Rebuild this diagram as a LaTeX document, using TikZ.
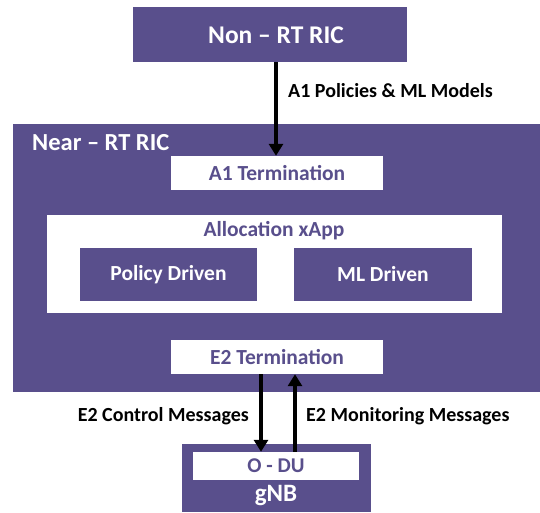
\documentclass[tikz,border=0pt]{standalone}
\usepackage{fontspec}
\setmainfont{Carlito}
\usetikzlibrary{arrows.meta}
\definecolor{ricpurple}{RGB}{89,79,140}
\begin{document}
\begin{tikzpicture}[x=1pt,y=-1pt,
  purplebox/.style={fill=ricpurple,draw=none,inner sep=0pt},
  whitebox/.style={fill=white,draw=none,inner sep=0pt},
  darrow/.style={line width=4.5pt,-{Triangle[width=14pt,length=12pt]}},
  lbl/.style={font=\bfseries\fontsize{20}{24}\selectfont,text=black,inner sep=0pt},
  intext/.style={font=\bfseries\fontsize{21.5}{25}\selectfont}]
\useasboundingbox (0,0) rectangle (540,512);
% Non-RT RIC
\path[purplebox] (133,7) rectangle (407,62);
\node[font=\bfseries\fontsize{25.5}{30}\selectfont,text=white] (nonrt) at (276,35) {Non -- RT RIC};
\coordinate (nonrtb) at (276,62);
% Near-RT RIC
\path[purplebox] (13,124) rectangle (540,392);
\node[anchor=west,font=\bfseries\fontsize{24.5}{28}\selectfont,text=white,inner sep=0pt] (nearrt) at (32,143) {Near -- RT RIC};
% A1 Termination
\node[whitebox,intext,minimum width=212pt,minimum height=34pt,text=ricpurple] (a1t) at (277,173) {A1 Termination};
% Allocation xApp
\path[whitebox] (47,215) rectangle (502,313);
\node[intext,text=ricpurple] (xapp) at (274,231) {Allocation xApp};
\node[purplebox,intext,minimum width=177pt,minimum height=53pt,text=white] (pol) at (168.5,274.5) {Policy Driven};
\node[purplebox,intext,minimum width=178pt,minimum height=53pt,text=white] (ml) at (383,274.5) {ML Driven};
% E2 Termination
\node[whitebox,intext,minimum width=212pt,minimum height=34pt,text=ricpurple] (e2t) at (277,357) {E2 Termination};
% gNB
\path[purplebox] (182,444) rectangle (371,512);
\node[whitebox,minimum width=166pt,minimum height=28pt,font=\bfseries\fontsize{21}{24}\selectfont,text=ricpurple] (odu) at (276,466) {O - DU};
\node[font=\bfseries\fontsize{25}{28}\selectfont,text=white] (gnb) at (276,496) {gNB};
% arrows
\draw[darrow] (nonrtb) -- (a1t.north -| nonrtb);
\draw[darrow] (e2t.south -| 261,0) -- (odu.north -| 261,0);
\draw[darrow] (odu.north -| 295,0) -- (e2t.south -| 295,0);
% labels
\node[lbl,anchor=west] (a1lbl) at (288,91) {A1 Policies \& ML Models};
\node[lbl,anchor=east] (e2c) at (249,416) {E2 Control Messages};
\node[lbl,anchor=west] (e2m) at (306,416) {E2 Monitoring Messages};
\end{tikzpicture}
\end{document}
